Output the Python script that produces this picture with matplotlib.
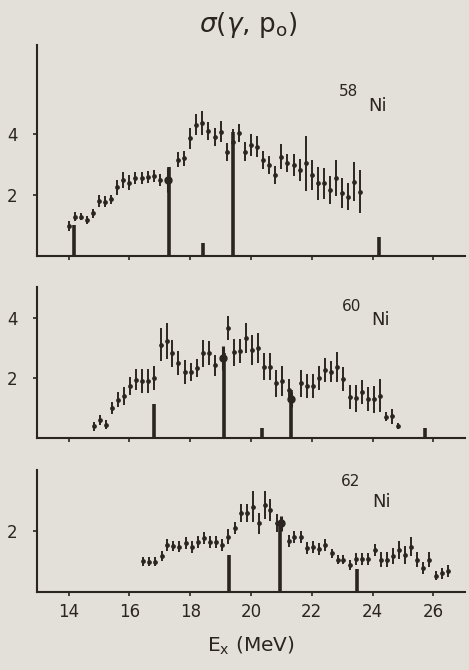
import matplotlib
matplotlib.use("Agg")
import matplotlib.pyplot as plt

BG = "#e2e0d8"
INK = "#2b2521"

# ---------------- data ----------------
# 58Ni
e58 = [14.0, 14.2, 14.4, 14.6, 14.8, 15.0, 15.2, 15.4, 15.6, 15.8, 16.0, 16.2, 16.4,
       16.6, 16.8, 17.0, 17.6, 17.8, 18.0, 18.2, 18.4, 18.6, 18.8, 19.0, 19.2,
       19.4, 19.6, 19.8, 20.0, 20.2, 20.4, 20.6, 20.8, 21.0, 21.2, 21.4, 21.6, 21.8,
       22.0, 22.2, 22.4, 22.6, 22.8, 23.0, 23.2, 23.4, 23.6]
s58 = [0.98, 1.29, 1.29, 1.18, 1.40, 1.80, 1.78, 1.86, 2.25, 2.49, 2.40, 2.55, 2.56,
       2.60, 2.62, 2.49, 3.15, 3.20, 3.86, 4.30, 4.35, 4.10, 3.91, 4.08, 3.40,
       3.75, 4.02, 3.42, 3.64, 3.58, 3.15, 2.98, 2.66, 3.26, 3.04, 2.98, 2.82, 3.04,
       2.66, 2.38, 2.38, 2.16, 2.55, 2.06, 1.94, 2.44, 2.11]
d58 = [0.15, 0.15, 0.12, 0.12, 0.15, 0.20, 0.18, 0.15, 0.25, 0.25, 0.25, 0.20, 0.20,
       0.20, 0.20, 0.20, 0.25, 0.25, 0.35, 0.35, 0.40, 0.30, 0.30, 0.35, 0.30,
       0.40, 0.30, 0.30, 0.35, 0.35, 0.30, 0.30, 0.30, 0.40, 0.30, 0.35, 0.35, 0.90,
       0.50, 0.55, 0.50, 0.45, 0.60, 0.50, 0.45, 0.65, 0.70]
big58_e, big58_s, big58_d = [17.28], [2.49], [0.40]
stick58_e = [14.17, 17.31, 18.41, 19.41, 24.21]
stick58_h = [1.00, 2.93, 0.41, 4.08, 0.61]

# 60Ni
e60 = [14.84, 15.03, 15.23, 15.43, 15.63, 15.82, 16.02, 16.21, 16.42, 16.62, 16.82,
       17.03, 17.22, 17.41, 17.61, 17.82, 18.01, 18.21, 18.42, 18.62, 18.83,
       19.24, 19.44, 19.63, 19.84, 20.03, 20.23, 20.43, 20.62, 20.82, 21.02, 21.24,
       21.63, 21.83, 22.03, 22.23, 22.43, 22.63, 22.84, 23.03, 23.25, 23.44, 23.64,
       23.84, 24.03, 24.25, 24.44, 24.65, 24.85]
s60 = [0.38, 0.59, 0.44, 0.98, 1.27, 1.40, 1.73, 1.93, 1.90, 1.90, 2.00,
       3.09, 3.21, 2.81, 2.50, 2.18, 2.20, 2.31, 2.81, 2.81, 2.42,
       3.65, 2.85, 2.90, 3.31, 2.92, 2.98, 2.37, 2.37, 1.82, 1.90, 1.59,
       1.81, 1.72, 1.72, 1.98, 2.26, 2.20, 2.37, 1.96, 1.37, 1.31, 1.53,
       1.28, 1.28, 1.40, 0.70, 0.72, 0.40]
d60 = [0.15, 0.15, 0.15, 0.20, 0.25, 0.30, 0.30, 0.35, 0.40, 0.40, 0.40,
       0.55, 0.60, 0.45, 0.40, 0.40, 0.30, 0.30, 0.45, 0.40, 0.35,
       0.40, 0.45, 0.40, 0.50, 0.50, 0.50, 0.45, 0.45, 0.45, 0.50, 0.35,
       0.45, 0.40, 0.40, 0.40, 0.40, 0.35, 0.50, 0.40, 0.40, 0.45, 0.40,
       0.40, 0.45, 0.55, 0.15, 0.25, 0.10]
big60_e, big60_s, big60_d = [19.07, 21.33], [2.65, 1.28], [0.40, 0.25]
stick60_e = [16.82, 19.11, 20.35, 21.33, 25.74]
stick60_h = [1.11, 2.81, 0.31, 1.60, 0.31]

# 62Ni
e62 = [16.45, 16.65, 16.85, 17.06, 17.24, 17.44, 17.64, 17.85, 18.06, 18.25, 18.45,
       18.65, 18.85, 19.04, 19.25, 19.47, 19.67, 19.86, 20.05, 20.26, 20.46, 20.64,
       20.84, 21.24, 21.43, 21.63, 21.83, 22.03, 22.24, 22.45, 22.65, 22.85, 23.03,
       23.25, 23.45, 23.65, 23.86, 24.08, 24.26, 24.46, 24.66, 24.87, 25.06, 25.26,
       25.46, 25.67, 25.86, 26.07, 26.27, 26.49]
s62 = [1.01, 0.99, 0.99, 1.18, 1.54, 1.51, 1.49, 1.60, 1.49, 1.65, 1.76,
       1.65, 1.65, 1.54, 1.82, 2.09, 2.59, 2.59, 2.81, 2.26, 2.86, 2.70,
       2.26, 1.68, 1.82, 1.82, 1.43, 1.49, 1.40, 1.54, 1.27, 1.05, 1.05,
       0.88, 1.07, 1.07, 1.07, 1.38, 1.05, 1.05, 1.18, 1.38, 1.21, 1.49,
       1.05, 0.77, 1.05, 0.52, 0.61, 0.69]
d62 = [0.15, 0.15, 0.15, 0.15, 0.20, 0.18, 0.18, 0.20, 0.20, 0.20, 0.20,
       0.20, 0.20, 0.20, 0.25, 0.20, 0.30, 0.30, 0.50, 0.35, 0.45, 0.35,
       0.30, 0.20, 0.20, 0.20, 0.20, 0.20, 0.20, 0.20, 0.15, 0.15, 0.15,
       0.18, 0.20, 0.20, 0.20, 0.20, 0.25, 0.25, 0.25, 0.30, 0.30, 0.30,
       0.25, 0.20, 0.25, 0.15, 0.18, 0.20]
big62_e, big62_s, big62_d = [20.98], [2.26], [0.25]
stick62_e = [19.26, 20.95, 23.49]
stick62_h = [1.21, 2.30, 0.74]

panels = [
    dict(e=e58, s=s58, d=d58, be=big58_e, bs=big58_s, bd=big58_d,
         ste=stick58_e, sth=stick58_h, ymax=6.92, yt=[2, 4], iso="58",
         ipos=(22.9, 5.4), npos=(23.85, 4.92)),
    dict(e=e60, s=s60, d=d60, be=big60_e, bs=big60_s, bd=big60_d,
         ste=stick60_e, sth=stick60_h, ymax=5.03, yt=[2, 4], iso="60",
         ipos=(23.0, 4.37), npos=(23.95, 3.92)),
    dict(e=e62, s=s62, d=d62, be=big62_e, bs=big62_s, bd=big62_d,
         ste=stick62_e, sth=stick62_h, ymax=4.02, yt=[2], iso="62",
         ipos=(22.95, 3.63), npos=(24.0, 2.97)),
]
rects = [
    [0.0789, 0.618, 0.9126, 0.315],
    [0.0789, 0.3467, 0.9126, 0.2254],
    [0.0789, 0.1169, 0.9126, 0.1816],
]
xticks = [14, 16, 18, 20, 22, 24, 26]

fig = plt.figure(figsize=(4.69, 6.70), dpi=100, facecolor=BG)

for i, (p, r) in enumerate(zip(panels, rects)):
    ax = fig.add_axes(r)
    ax.set_facecolor(BG)
    ax.set_xlim(12.96, 27.04)
    ax.set_ylim(0, p["ymax"])
    ax.errorbar(p["e"], p["s"], yerr=p["d"], fmt="o", ms=2.4, color=INK,
                ecolor=INK, elinewidth=1.4, capsize=0, zorder=3)
    ax.errorbar(p["be"], p["bs"], yerr=p["bd"], fmt="o", ms=5, color=INK,
                ecolor=INK, elinewidth=2.2, capsize=0, zorder=4)
    ax.vlines(p["ste"], 0, p["sth"], color=INK, lw=2.6, zorder=2)
    for side in ("top", "right"):
        ax.spines[side].set_visible(False)
    for side in ("left", "bottom"):
        ax.spines[side].set_color(INK)
        ax.spines[side].set_linewidth(1.5)
    ax.set_yticks(p["yt"])
    ax.set_yticklabels([str(v) for v in p["yt"]])
    ax.set_xticks(xticks)
    ax.tick_params(axis="both", direction="out", length=3, width=1.2,
                   color=INK, labelcolor=INK, labelsize=12, pad=5)
    ax.tick_params(axis="y", pad=11)
    if i < 2:
        ax.set_xticklabels([])
    else:
        ax.set_xticklabels([str(v) for v in xticks])
        ax.set_xlabel(r"E$_\mathregular{x}$ (MeV)", fontsize=14.5, color=INK,
                      labelpad=10)
    ax.text(p["ipos"][0], p["ipos"][1], p["iso"], fontsize=11, color=INK,
            ha="left", va="center")
    ax.text(p["npos"][0], p["npos"][1], "Ni", fontsize=13, color=INK,
            ha="left", va="center")

fig.text(0.53, 0.962, r"$\sigma$($\gamma$, p$_\mathregular{o}$)", fontsize=19,
         color=INK, ha="center", va="center")

fig.savefig("out.png", dpi=100, facecolor=BG)
